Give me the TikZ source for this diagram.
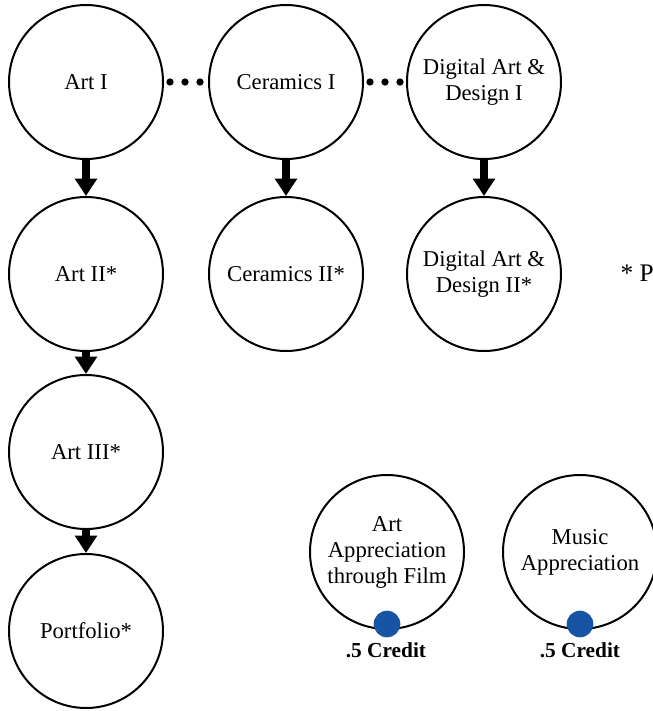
\documentclass[tikz,border=0pt]{standalone}
\usepackage{fontspec}
\setmainfont{Liberation Serif}
\usetikzlibrary{arrows.meta}
\definecolor{creditblue}{RGB}{24,84,164}
\begin{document}
\begin{tikzpicture}[x=0.75pt,y=-0.75pt,
    course/.style={circle, draw, line width=1.5pt, minimum size=115.5pt, inner sep=0pt, align=center, font=\fontsize{17}{19.5}\selectfont},
    prereq/.style={-{Triangle[width=16pt,length=13pt]}, line width=5.5pt},
    orpath/.style={line width=5.5pt, line cap=round, dash pattern=on 0pt off 11.25pt, shorten <=4.5pt, shorten >=4.5pt},
    creditdot/.style={circle, fill=creditblue, minimum size=20pt, inner sep=0pt},
    credit/.style={font=\fontsize{16}{18}\selectfont\bfseries}]

        \useasboundingbox (0,0) rectangle (653,711);
        \clip (0,0) rectangle (653,711);

        \node[course] (art1) at (86,82) {Art I};
        \node[course] (cer1) at (286,82) {Ceramics I};
        \node[course] (dig1) at (484,82) {Digital Art \&\\Design I};

        \node[course] (art2) at (86,274) {Art II*};
        \node[course] (cer2) at (286,274) {Ceramics II*};
        \node[course] (dig2) at (484,274) {Digital Art \&\\Design II*};

        \node[course] (art3) at (86,452) {Art III*};
        \node[course] (port) at (86,631) {Portfolio*};

        \node[course] (film) at (387,552) {Art\\Appreciation\\through Film};
        \node[course] (music) at (580,552) {Music\\Appreciation};

        \draw[orpath] (art1) -- (cer1);
        \draw[orpath] (cer1) -- (dig1);

        \draw[prereq] (art1) -- (art2);
        \draw[prereq] (cer1) -- (cer2);
        \draw[prereq] (dig1) -- (dig2);
        \draw[prereq] (art2) -- (art3);
        \draw[prereq] (art3) -- (port);

        \node[creditdot] (filmdot) at ([yshift=4.5pt]film.south) {};
        \node[creditdot] (musicdot) at ([yshift=4.5pt]music.south) {};
        \node[credit] (filmcr) at (386,650) {.5 Credit};
        \node[credit] (musiccr) at (580,650) {.5 Credit};

        \node[anchor=west, font=\fontsize{19}{23}\selectfont] (note) at (616,273) {* P};

\end{tikzpicture}
\end{document}
